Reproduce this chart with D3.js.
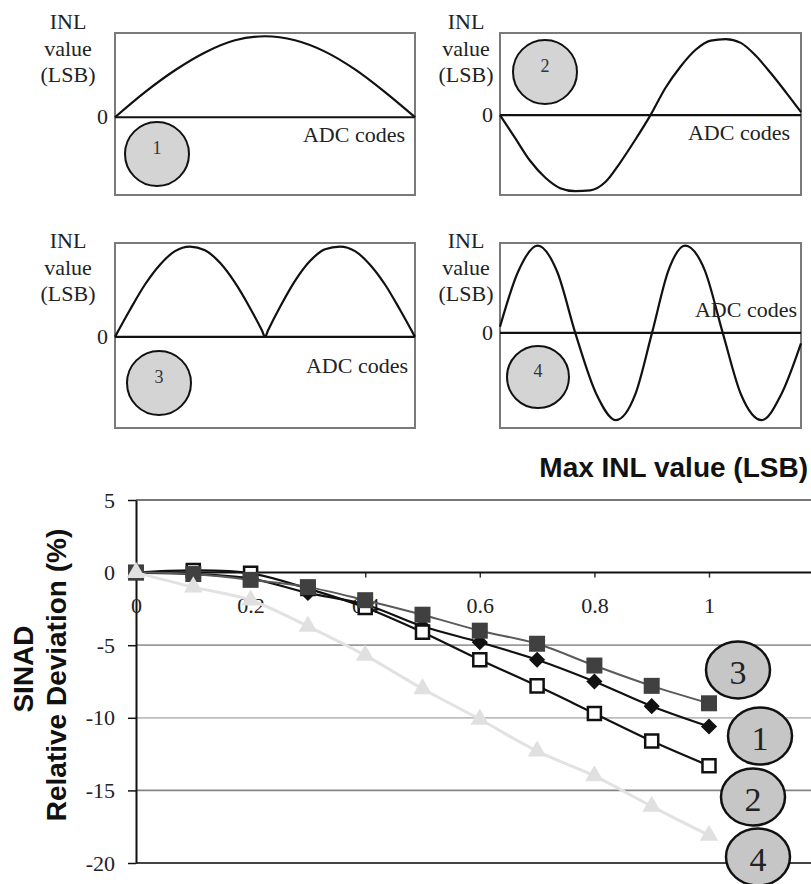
<!DOCTYPE html>
<html>
<head>
<meta charset="utf-8">
<script src="https://cdn.jsdelivr.net/npm/d3@7"></script>
<style>
  body { margin: 0; background: #fff; }
  svg { display: block; }
</style>
</head>
<body>
<div id="vis"></div>
<script>
// Overall drawing space
const width = 811;
const height = 884;

// INL sketches: [fraction of ADC codes, INL relative to peak]
const inl1 = [[0, 0], [0.1, 0.31], [0.2, 0.58], [0.3, 0.8], [0.4, 0.95], [0.5, 1], [0.6, 0.95], [0.7, 0.81], [0.8, 0.59], [0.9, 0.31], [1, 0]];
const inl2 = [[0, 0], [0.05, -0.3], [0.1, -0.6], [0.15, -0.82], [0.2, -0.96], [0.25, -1], [0.3, -0.99], [0.35, -0.88], [0.4, -0.62], [0.45, -0.32], [0.5, 0], [0.55, 0.36], [0.6, 0.64], [0.65, 0.86], [0.7, 0.98], [0.75, 1], [0.8, 0.95], [0.85, 0.78], [0.9, 0.55], [0.95, 0.3], [1, 0.04]];
const inl3 = [[0, 0], [0.05, 0.3], [0.1, 0.58], [0.15, 0.8], [0.2, 0.95], [0.25, 1], [0.3, 0.96], [0.35, 0.82], [0.4, 0.6], [0.45, 0.32], [0.49, 0.07], [0.5, 0], [0.51, 0.07], [0.55, 0.33], [0.6, 0.62], [0.65, 0.84], [0.7, 0.97], [0.75, 1], [0.8, 0.95], [0.85, 0.8], [0.9, 0.58], [0.95, 0.3], [1, 0]];
const inl4 = [[0, 0.07], [0.06, 0.7], [0.125, 1], [0.19, 0.7], [0.25, 0], [0.32, -0.7], [0.385, -1], [0.45, -0.7], [0.505, 0], [0.56, 0.72], [0.615, 1], [0.68, 0.72], [0.74, 0], [0.8, -0.7], [0.87, -1], [0.935, -0.7], [1, -0.12]];

// SINAD relative deviation (%) against max INL value (LSB)
const maxInl = [0, 0.1, 0.2, 0.3, 0.4, 0.5, 0.6, 0.7, 0.8, 0.9, 1];
const sinad1 = [0, -0.1, -0.4, -1.4, -2.2, -3.7, -4.8, -6.0, -7.5, -9.2, -10.6]; // diamonds
const sinad2 = [0, 0.15, -0.05, -1.1, -2.4, -4.1, -6.0, -7.8, -9.7, -11.6, -13.3]; // open squares
const sinad3 = [0, -0.1, -0.5, -1.0, -1.9, -2.9, -4.0, -4.9, -6.4, -7.8, -9.0]; // filled squares
const sinad4 = [0, -1.0, -1.9, -3.7, -5.7, -8.0, -10.1, -12.3, -14.0, -16.1, -18.1]; // triangles

// Tick labels
const xTicks = [0, 0.2, 0.4, 0.6, 0.8, 1];
const yTicks = [5, 0, -5, -10, -15, -20];
const serifFont = '"Liberation Serif", "Times New Roman", serif';
const sansFont = '"Liberation Sans", Arial, sans-serif';

let svg = d3.select('#vis')
    .append('svg')
    .attr('width', width)
    .attr('height', height);

// ---------- four small INL panels ----------
const panels = [
    {num: 1, data: inl1, x0: 115, x1: 415, y0: 33, y1: 195, dom: [-0.96, 1.04], labX: 68, labY: 29, circ: [157, 154, 32], adc: [405, 142]},
    {num: 2, data: inl2, x0: 500, x1: 801, y0: 33, y1: 195, dom: [-1.05, 1.08], labX: 466, labY: 29, circ: [545, 72, 32], adc: [790, 140]},
    {num: 3, data: inl3, x0: 115, x1: 415, y0: 243, y1: 428, dom: [-1.01, 1.04], labX: 68, labY: 248, circ: [159, 383, 32], adc: [408, 373]},
    {num: 4, data: inl4, x0: 500, x1: 801, y0: 243, y1: 428, dom: [-1.09, 1.03], labX: 466, labY: 248, circ: [538, 377, 31], adc: [797, 317]}
];

panels.forEach(p => {
    let g = svg.append('g').attr('class', 'panel' + p.num);
    let px = d3.scaleLinear().domain([0, 1]).range([p.x0, p.x1]);
    let py = d3.scaleLinear().domain(p.dom).range([p.y1, p.y0]);

    // frame
    g.append('rect')
        .attr('x', p.x0).attr('y', p.y0)
        .attr('width', p.x1 - p.x0).attr('height', p.y1 - p.y0)
        .attr('fill', 'none')
        .attr('stroke', '#7a7a7a')
        .attr('stroke-width', 2);

    // zero line
    g.append('line')
        .attr('x1', px(0)).attr('x2', px(1))
        .attr('y1', py(0)).attr('y2', py(0))
        .attr('stroke', '#111')
        .attr('stroke-width', 2.2);

    // curve
    g.append('path')
        .datum(p.data)
        .attr('fill', 'none')
        .attr('stroke', '#111')
        .attr('stroke-width', 2.2)
        .attr('d', d3.line()
            .x(d => px(d[0]))
            .y(d => py(d[1]))
            .curve(d3.curveMonotoneX));

    // axis texts
    ['INL', 'value', '(LSB)'].forEach((t, i) => {
        g.append('text')
            .attr('x', p.labX)
            .attr('y', p.labY + i * 26.5)
            .attr('text-anchor', 'middle')
            .attr('font-family', serifFont)
            .attr('font-size', 22)
            .attr('fill', '#222')
            .text(t);
    });
    g.append('text')
        .attr('x', p.x0 - 7)
        .attr('y', py(0) + 7)
        .attr('text-anchor', 'end')
        .attr('font-family', serifFont)
        .attr('font-size', 22)
        .attr('fill', '#222')
        .text('0');
    g.append('text')
        .attr('x', p.adc[0])
        .attr('y', p.adc[1])
        .attr('text-anchor', 'end')
        .attr('font-family', serifFont)
        .attr('font-size', 22)
        .attr('fill', '#222')
        .text('ADC codes');

    // numbered badge
    g.append('circle')
        .attr('cx', p.circ[0]).attr('cy', p.circ[1]).attr('r', p.circ[2])
        .attr('fill', '#d4d4d4')
        .attr('stroke', '#111')
        .attr('stroke-width', 2);
    g.append('text')
        .attr('x', p.circ[0])
        .attr('y', p.circ[1])
        .attr('text-anchor', 'middle')
        .attr('font-family', serifFont)
        .attr('font-size', 18)
        .attr('fill', '#333')
        .text(p.num);
});

// ---------- SINAD chart ----------
let xScale = d3.scaleLinear().domain([0, 1]).range([136, 709]);
let yScale = d3.scaleLinear().domain([-20, 5]).range([863, 500]);

// gridlines (the scanned picture shows them in slightly varying greys)
const gridColor = v => v === 5 ? '#777' : v === -20 ? '#444' : v === -15 ? '#858585' : v === -5 ? '#9a9a9a' : '#bdbdbd';
svg.append('g')
    .selectAll('line')
    .data(yTicks.filter(v => v !== 0))
    .join('line')
    .attr('x1', xScale(0))
    .attr('x2', xScale(1.25))
    .attr('y1', d => yScale(d))
    .attr('y2', d => yScale(d))
    .attr('stroke', d => gridColor(d))
    .attr('stroke-width', d => (d === 5 || d === -20) ? 2.2 : 1.8);

// Y axis
let yaxis = d3.axisLeft(yScale)
    .tickValues(yTicks)
    .tickSize(8)
    .tickSizeOuter(0)
    .tickPadding(13)
    .tickFormat(d => String(d));
let yg = svg.append('g')
    .attr('class', 'y axis')
    .attr('transform', `translate(${xScale(0)},0)`)
    .call(yaxis);
yg.select('.domain').attr('stroke', '#111').attr('stroke-width', 2);
yg.selectAll('.tick line').attr('stroke', '#111').attr('stroke-width', 1.5);
yg.selectAll('.tick text')
    .attr('font-family', serifFont)
    .attr('font-size', 22)
    .attr('fill', '#222');

// X axis along zero
let xaxis = d3.axisBottom(xScale)
    .tickValues(xTicks)
    .tickSize(5)
    .tickSizeOuter(0)
    .tickPadding(20)
    .tickFormat(d => String(d));
let xg = svg.append('g')
    .attr('class', 'x axis')
    .attr('transform', `translate(0,${yScale(0)})`)
    .call(xaxis);
xg.select('.domain').remove();
xg.selectAll('.tick line').attr('stroke', '#333').attr('stroke-width', 1.5);
xg.selectAll('.tick text')
    .attr('font-family', serifFont)
    .attr('font-size', 22)
    .attr('fill', '#222');
svg.append('line')
    .attr('x1', xScale(0)).attr('x2', xScale(1.25))
    .attr('y1', yScale(0)).attr('y2', yScale(0))
    .attr('stroke', '#111')
    .attr('stroke-width', 2);

// series, later ones drawn on top
const series = [
    {values: sinad1, line: '#111', width: 2.2, marker: 'diamond', fill: '#111', stroke: 'none'},
    {values: sinad2, line: '#111', width: 2.2, marker: 'square', fill: '#fff', stroke: '#111'},
    {values: sinad3, line: '#5a5a5a', width: 2, marker: 'square', fill: '#404040', stroke: 'none'},
    {values: sinad4, line: '#e2e2e2', width: 3, marker: 'triangle', fill: '#e0e0e0', stroke: 'none'}
];

let lineGen = d3.line()
    .x((d, i) => xScale(maxInl[i]))
    .y(d => yScale(d))
    .curve(d3.curveCatmullRom.alpha(0.5));

series.forEach(s => {
    let g = svg.append('g');
    g.append('path')
        .datum(s.values)
        .attr('fill', 'none')
        .attr('stroke', s.line)
        .attr('stroke-width', s.width)
        .attr('d', lineGen);

    let sym = s.marker === 'triangle' ? d3.symbol(d3.symbolTriangle, 150)
        : s.marker === 'diamond' ? d3.symbol(d3.symbolSquare, 130)
        : s.stroke === 'none' ? d3.symbol(d3.symbolSquare, 256) : d3.symbol(d3.symbolSquare, 170);

    g.selectAll('path.m')
        .data(s.values)
        .join('path')
        .attr('class', 'm')
        .attr('d', sym)
        .attr('transform', (d, i) => `translate(${xScale(maxInl[i])},${yScale(d)})` + (s.marker === 'diamond' ? ' rotate(45)' : ''))
        .attr('fill', s.fill)
        .attr('stroke', s.stroke)
        .attr('stroke-width', 2.5);
});

// badges naming the INL shapes
const badges = [
    {num: 3, cx: 738, cy: 670},
    {num: 1, cx: 760, cy: 736},
    {num: 2, cx: 753, cy: 797},
    {num: 4, cx: 758, cy: 857}
];
let bg = svg.append('g');
bg.selectAll('ellipse')
    .data(badges)
    .join('ellipse')
    .attr('cx', d => d.cx)
    .attr('cy', d => d.cy)
    .attr('rx', 32)
    .attr('ry', 28.5)
    .attr('fill', '#c6c6c6')
    .attr('stroke', '#111')
    .attr('stroke-width', 2.5);
bg.selectAll('text')
    .data(badges)
    .join('text')
    .attr('x', d => d.cx)
    .attr('y', d => d.cy + 14)
    .attr('text-anchor', 'middle')
    .attr('font-family', serifFont)
    .attr('font-size', 34)
    .attr('fill', '#222')
    .text(d => d.num);

// titles
svg.append('text')
    .attr('x', 808)
    .attr('y', 477)
    .attr('text-anchor', 'end')
    .attr('font-family', sansFont)
    .attr('font-weight', 'bold')
    .attr('font-size', 28)
    .attr('fill', '#111')
    .text('Max INL value (LSB)');

svg.append('text')
    .attr('transform', 'translate(33,669) rotate(-90)')
    .attr('text-anchor', 'middle')
    .attr('font-family', sansFont)
    .attr('font-weight', 'bold')
    .attr('font-size', 28)
    .attr('fill', '#111')
    .text('SINAD');
svg.append('text')
    .attr('transform', 'translate(66,675) rotate(-90)')
    .attr('text-anchor', 'middle')
    .attr('font-family', sansFont)
    .attr('font-weight', 'bold')
    .attr('font-size', 28)
    .attr('fill', '#111')
    .text('Relative Deviation (%)');
</script>
</body>
</html>
